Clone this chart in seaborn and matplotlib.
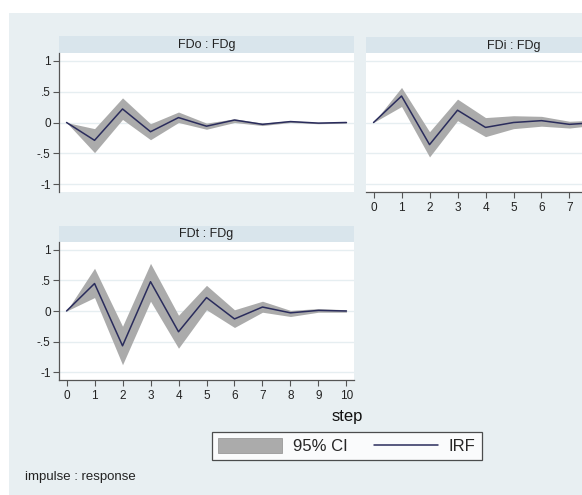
import numpy as np
import pandas as pd
import matplotlib
matplotlib.use("Agg")
import matplotlib.pyplot as plt
from matplotlib.patches import Rectangle, Patch
from matplotlib.lines import Line2D
import seaborn as sns

steps = list(range(11))

# FDo : FDg
irf_fdo = [0.0, -0.29, 0.22, -0.15, 0.08, -0.06, 0.04, -0.03, 0.015, -0.01, 0.0]
lo_fdo = [0.0, -0.49, 0.05, -0.28, 0.00, -0.11, 0.00, -0.05, 0.00, -0.02, -0.01]
hi_fdo = [0.0, -0.10, 0.40, -0.02, 0.17, -0.01, 0.06, -0.01, 0.03, 0.00, 0.01]

# FDi : FDg
irf_fdi = [0.0, 0.43, -0.36, 0.20, -0.08, 0.00, 0.03, -0.03, 0.00, 0.00, 0.00]
lo_fdi = [0.0, 0.26, -0.56, 0.03, -0.23, -0.10, -0.06, -0.09, -0.04, -0.03, -0.02]
hi_fdi = [0.0, 0.57, -0.15, 0.38, 0.08, 0.11, 0.10, 0.02, 0.04, 0.03, 0.02]

# FDt : FDg
irf_fdt = [0.0, 0.45, -0.57, 0.48, -0.34, 0.22, -0.13, 0.065, -0.03, 0.01, 0.0]
lo_fdt = [0.0, 0.22, -0.88, 0.16, -0.61, 0.02, -0.27, -0.02, -0.09, -0.02, -0.02]
hi_fdt = [0.0, 0.70, -0.25, 0.78, -0.07, 0.42, 0.02, 0.16, 0.01, 0.04, 0.02]

titles = ["FDo : FDg", "FDi : FDg", "FDt : FDg"]
yticks = [-1, -0.5, 0, 0.5, 1]
yticklabels = ["-1", "-.5", "0", ".5", "1"]

sns.set_theme(style="white")
plt.rcParams['font.family'] = ['Liberation Sans', 'DejaVu Sans']

W, H = 582, 495
fig = plt.figure(figsize=(W / 100, H / 100), dpi=100)
fig.patch.set_facecolor("white")
bg = "#E8EFF2"
strip_c = "#D9E5EC"
grid_c = "#E6EEF1"
line_c = "#2A2C5C"
ci_c = "#ABABAB"
axis_c = "#555555"

fig.patches.append(Rectangle((9 / W, 0), 1, (H - 13) / H, transform=fig.transFigure,
                             facecolor=bg, edgecolor="none", zorder=-10))

def fy(p):
    return (H - p) / H

panels = [
    dict(left=59, top=53, bottom=192, stop=36, showy=True, showx=False, maxlab=10,
         irf=irf_fdo, lo=lo_fdo, hi=hi_fdo, title=titles[0]),
    dict(left=366, top=53, bottom=192, stop=37, showy=False, showx=True, maxlab=7,
         irf=irf_fdi, lo=lo_fdi, hi=hi_fdi, title=titles[1]),
    dict(left=59, top=242, bottom=380, stop=226, showy=True, showx=True, maxlab=10,
         irf=irf_fdt, lo=lo_fdt, hi=hi_fdt, title=titles[2]),
]
pw = 295

for p in panels:
    ax = fig.add_axes([p["left"] / W, fy(p["bottom"]), pw / W, (p["bottom"] - p["top"]) / H])
    ax.set_facecolor("white")
    fig.patches.append(Rectangle((p["left"] / W, fy(p["top"])), pw / W, (p["top"] - p["stop"]) / H,
                                 transform=fig.transFigure, facecolor=strip_c,
                                 edgecolor="none", zorder=-5))
    fig.text((p["left"] + pw / 2) / W, fy((p["top"] + p["stop"]) / 2 + 0.5), p["title"],
             ha="center", va="center", fontsize=9, color="#222222")
    df = pd.DataFrame({"step": steps, "irf": p["irf"], "lo": p["lo"], "hi": p["hi"]})
    for yv in yticks:
        ax.axhline(yv, color=grid_c, lw=1.0, zorder=0)
    ax.fill_between(df["step"], df["lo"], df["hi"], color=ci_c, lw=0, zorder=2)
    sns.lineplot(data=df, x="step", y="irf", ax=ax, color=line_c, lw=1.1, zorder=3)
    ax.set_xlim(-0.27, 10.27)
    ax.set_ylim(-1.13, 1.13)
    ax.set_xlabel("")
    ax.set_ylabel("")
    for s in ["top", "right"]:
        ax.spines[s].set_visible(False)
    ax.spines["left"].set_visible(p["showy"])
    ax.spines["bottom"].set_visible(p["showx"])
    ax.spines["left"].set_color(axis_c)
    ax.spines["bottom"].set_color(axis_c)
    ax.spines["left"].set_linewidth(0.9)
    ax.spines["bottom"].set_linewidth(0.9)
    ax.set_yticks(yticks)
    ax.set_xticks(steps)
    if p["showy"]:
        ax.set_yticklabels(yticklabels)
        ax.tick_params(axis="y", left=True, length=4, width=0.8, color=axis_c,
                       labelsize=8.5, pad=2, labelcolor="#222222")
    else:
        ax.tick_params(axis="y", left=False, labelleft=False)
    if p["showx"]:
        ax.set_xticklabels([str(s) if s <= p["maxlab"] else "" for s in steps])
        ax.tick_params(axis="x", bottom=True, length=4, width=0.8, color=axis_c,
                       labelsize=8.5, pad=3, labelcolor="#222222")
    else:
        ax.tick_params(axis="x", bottom=False, labelbottom=False)

fig.text(347 / W, fy(416), "step", ha="center", va="center", fontsize=12, color="#111111")
fig.text(25 / W, fy(477), "impulse : response", ha="left", va="center", fontsize=9.5, color="#222222")

handles = [Patch(facecolor=ci_c, edgecolor="#999999", lw=0.6, label="95% CI"),
           Line2D([0], [0], color=line_c, lw=1.1, label="IRF")]
leg = fig.legend(handles=handles, loc="center", bbox_to_anchor=(347 / W, fy(446)),
                 ncol=2, frameon=True, fancybox=False, fontsize=12,
                 handlelength=3.84, handleheight=1.0, columnspacing=1.56,
                 handletextpad=0.66, borderpad=0.38, borderaxespad=0)
leg.get_frame().set_edgecolor("#222222")
leg.get_frame().set_linewidth(0.9)
leg.get_frame().set_facecolor("white")

fig.savefig("out.png", dpi=100)
